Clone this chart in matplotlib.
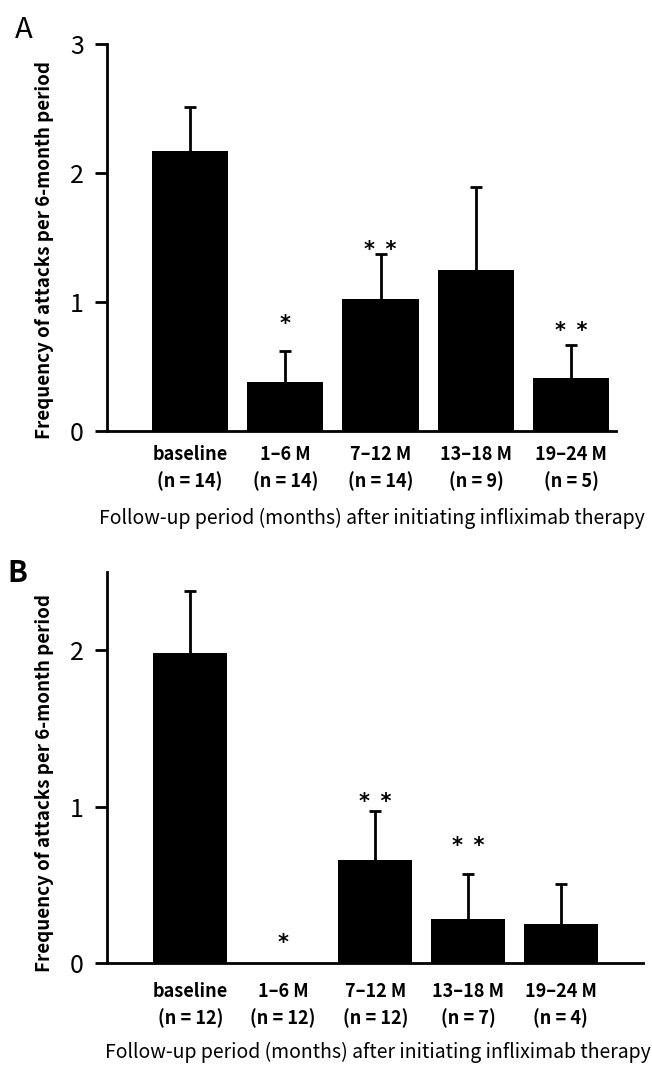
#!/usr/bin/env python3

import matplotlib
matplotlib.use("Agg")
import matplotlib.pyplot as plt
import numpy as np


FONT = ["Noto Sans CJK JP", "DejaVu Sans"]

PERIODS = ["baseline", "1–6 M", "7–12 M", "13–18 M", "19–24 M"]

A_N = [14, 14, 14, 9, 5]
A_MEAN = [2.17, 0.38, 1.02, 1.25, 0.41]
A_ERR = [0.34, 0.24, 0.35, 0.64, 0.255]
A_STARS = ["", "*", "* *", "", "* *"]
A_STAR_Y = [0, 0.88, 1.455, 0, 0.825]

B_N = [12, 12, 12, 7, 4]
B_MEAN = [1.98, 0.0, 0.66, 0.28, 0.25]
B_ERR = [0.40, 0.0, 0.315, 0.29, 0.255]
B_STARS = ["", "*", "* *", "* *", ""]
B_STAR_Y = [0, 0.17, 1.07, 0.79, 0]

YLABEL = "Frequency of attacks per 6-month period"
XLABEL = "Follow-up period (months) after initiating infliximab therapy"

W, H = 652, 1069
STAR_SIZE = 15


def fig_rect(left, right, top, bottom):
    return [left / W, 1 - bottom / H, (right - left) / W, (bottom - top) / H]


def draw_panel(fig, rect, means, errs, ns, stars, star_y, xlim, ylim, yticks,
               xlabel_pos, ylabel_pos, tick_pad):
    ax = fig.add_axes(rect)
    x = np.arange(len(means))
    means = np.asarray(means)
    errs = np.asarray(errs)
    ax.bar(x, means, width=0.8, color="black", zorder=2)

    has_err = errs > 0
    container = ax.errorbar(
        x[has_err],
        means[has_err],
        yerr=[np.zeros(has_err.sum()), errs[has_err]],
        fmt="none",
        ecolor="black",
        elinewidth=2.0,
        capsize=4,
        capthick=2.0,
        zorder=1,
    )
    # hide the cap that sits on top of each bar
    for cap in container[1]:
        if np.allclose(cap.get_ydata(), means[has_err]):
            cap.set_visible(False)

    for xi, label, yi in zip(x, stars, star_y):
        if not label:
            continue
        ax.annotate(
            label.replace(" ", "\u2002"),
            xy=(xi, yi),
            xytext=(0, -0.6 * STAR_SIZE),
            textcoords="offset points",
            ha="center",
            va="baseline",
            fontsize=STAR_SIZE,
            fontweight="bold",
            family="DejaVu Sans",
        )

    ax.set_xlim(*xlim)
    ax.set_ylim(*ylim)
    ax.set_yticks(yticks)
    ax.set_yticklabels([str(t) for t in yticks], fontsize=18, family=FONT)
    ax.set_xticks(x)
    ax.set_xticklabels(
        [f"{p}\n(n = {n})" for p, n in zip(PERIODS, ns)],
        fontsize=13,
        fontweight="bold",
        family=FONT,
        linespacing=1.45,
    )
    ax.tick_params(axis="x", length=0, pad=tick_pad)
    ax.tick_params(axis="y", direction="out", length=8.5, width=2.0, pad=8)

    for side in ("top", "right"):
        ax.spines[side].set_visible(False)
    for side in ("left", "bottom"):
        ax.spines[side].set_linewidth(2.0)

    ax.text(
        *xlabel_pos, XLABEL, transform=ax.transAxes,
        ha="center", va="center", fontsize=14, family=FONT,
    )
    ax.text(
        *ylabel_pos, YLABEL, transform=ax.transAxes, rotation=90,
        ha="center", va="center", fontsize=13.5, fontweight="bold", family=FONT,
    )
    return ax


def main():
    fig = plt.figure(figsize=(W / 100, H / 100), dpi=100)

    draw_panel(
        fig, fig_rect(107, 616, 44, 431),
        A_MEAN, A_ERR, A_N, A_STARS, A_STAR_Y,
        xlim=(-0.87, 4.47), ylim=(0, 3), yticks=[0, 1, 2, 3],
        xlabel_pos=(0.52, -0.225), ylabel_pos=(-0.122, 0.468), tick_pad=10,
    )
    draw_panel(
        fig, fig_rect(107, 643, 572, 963),
        B_MEAN, B_ERR, B_N, B_STARS, B_STAR_Y,
        xlim=(-0.90, 4.89), ylim=(0, 2.5), yticks=[0, 1, 2],
        xlabel_pos=(0.506, -0.228), ylabel_pos=(-0.1175, 0.46), tick_pad=14,
    )

    fig.text(24 / W, 1 - 30 / H, "A", fontsize=21, family=FONT,
             ha="center", va="center")
    fig.text(17 / W, 1 - 573 / H, "B", fontsize=21, family=FONT,
             fontweight="bold", ha="center", va="center")

    fig.savefig("out.png", dpi=100)
    plt.close(fig)


if __name__ == "__main__":
    main()
